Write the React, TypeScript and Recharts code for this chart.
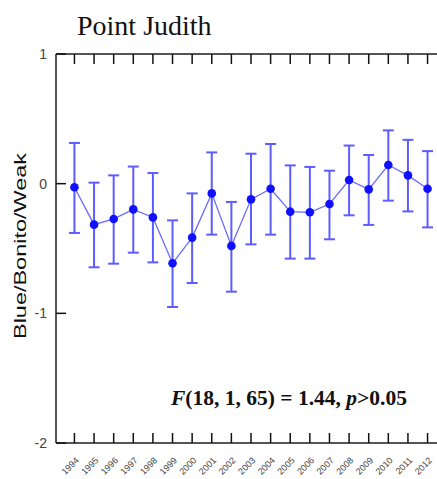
import { ComposedChart, Line, XAxis, YAxis, ErrorBar } from 'recharts';

const years = [1994, 1995, 1996, 1997, 1998, 1999, 2000, 2001, 2002, 2003, 2004, 2005, 2006, 2007, 2008, 2009, 2010, 2011, 2012];
const means = [-0.028, -0.316, -0.272, -0.198, -0.26, -0.614, -0.416, -0.075, -0.48, -0.121, -0.039, -0.216, -0.221, -0.157, 0.028, -0.044, 0.144, 0.064, -0.039];
const upper = [0.314, 0.008, 0.064, 0.132, 0.082, -0.283, -0.075, 0.241, -0.141, 0.231, 0.306, 0.141, 0.129, 0.1, 0.294, 0.221, 0.411, 0.338, 0.251];
const lower = [-0.38, -0.645, -0.617, -0.532, -0.607, -0.951, -0.766, -0.393, -0.833, -0.468, -0.393, -0.578, -0.578, -0.429, -0.244, -0.318, -0.131, -0.214, -0.337];
const yTicks = [-2, -1, 0, 1];

const data = years.map((year, i) => ({
  year,
  value: means[i],
  err: [means[i] - lower[i], upper[i] - means[i]],
}));

const BottomTick = (props: any) => {
  const { x, y, payload } = props;
  return (
    <g>
      <line x1={x} y1={y} x2={x} y2={y - 10} stroke="#111" strokeWidth={1.5} />
      <text
        x={x + 5}
        y={y + 18}
        transform={`rotate(-45 ${x + 5} ${y + 18})`}
        textAnchor="end"
        fontSize={9}
        fontFamily="Arial, Liberation Sans"
        fill="#444"
      >
        {payload.value}
      </text>
    </g>
  );
};

const TopTick = (props: any) => {
  const { x, y } = props;
  return <line x1={x} y1={y} x2={x} y2={y + 10} stroke="#111" strokeWidth={1.5} />;
};

const LeftTick = (props: any) => {
  const { x, y, payload } = props;
  return (
    <g>
      <line x1={x} y1={y} x2={x + 10} y2={y} stroke="#111" strokeWidth={1.5} />
      <text x={x - 9} y={y + 5} textAnchor="end" fontSize={14} fontFamily="Arial, Liberation Sans" fill="#444">
        {payload.value}
      </text>
    </g>
  );
};

const RightTick = (props: any) => {
  const { x, y } = props;
  return <line x1={x} y1={y} x2={x - 10} y2={y} stroke="#111" strokeWidth={1.5} />;
};

export default function App() {
  return (
    <div style={{ position: 'absolute', left: 0, top: 0, width: 437, height: 479, overflow: 'hidden', background: '#fff' }}>
      <ComposedChart width={450} height={479} data={data} margin={{ top: 0, right: 3, bottom: 0, left: 0 }}>
        <XAxis
          xAxisId="bottom"
          type="number"
          dataKey="year"
          domain={[1993.06, 2012.94]}
          ticks={years}
          allowDataOverflow
          height={36}
          tickSize={0}
          tickMargin={0}
          tickLine={false}
          interval={0}
          axisLine={{ stroke: '#555', strokeWidth: 2 }}
          tick={<BottomTick />}
        />
        <XAxis
          xAxisId="top"
          orientation="top"
          type="number"
          dataKey="year"
          domain={[1993.06, 2012.94]}
          ticks={years}
          allowDataOverflow
          height={54}
          tickSize={0}
          tickMargin={0}
          tickLine={false}
          interval={0}
          axisLine={{ stroke: '#555', strokeWidth: 2 }}
          tick={<TopTick />}
        />
        <YAxis
          yAxisId="left"
          type="number"
          domain={[-2, 1]}
          ticks={yTicks}
          width={56}
          tickSize={0}
          tickMargin={0}
          tickLine={false}
          interval={0}
          axisLine={{ stroke: '#555', strokeWidth: 2 }}
          tick={<LeftTick />}
        />
        <YAxis
          yAxisId="right"
          orientation="right"
          type="number"
          domain={[-2, 1]}
          ticks={yTicks}
          width={1}
          tickSize={0}
          tickMargin={0}
          tickLine={false}
          interval={0}
          axisLine={{ stroke: '#555', strokeWidth: 2 }}
          tick={<RightTick />}
        />
        <Line
          xAxisId="bottom"
          yAxisId="left"
          dataKey="value"
          stroke="#6a6aff"
          strokeWidth={1.3}
          dot={{ r: 4.3, fill: '#1010ff', stroke: 'none' }}
          activeDot={false}
          isAnimationActive={false}
        >
          <ErrorBar dataKey="err" direction="y" width={5.5} stroke="#5c5cff" strokeWidth={2} isAnimationActive={false} />
        </Line>
      </ComposedChart>
      <svg width={437} height={479} style={{ position: 'absolute', left: 0, top: 0, pointerEvents: 'none' }}>
        <text x={77} y={35} fontSize={28} fontFamily="Liberation Serif, Times New Roman, serif" fill="#111">
          Point Judith
        </text>
        <text
          x={26}
          y={246}
          transform="rotate(-90 26 246)"
          textAnchor="middle"
          fontSize={17}
          textLength={186}
          lengthAdjust="spacingAndGlyphs"
          fontFamily="Arial, Liberation Sans, sans-serif"
          fill="#111"
        >
          Blue/Bonito/Weak
        </text>
        <text x={171} y={405} fontSize={21.5} fontWeight="bold" fontFamily="Liberation Serif, Times New Roman, serif" fill="#111">
          <tspan fontStyle="italic">F</tspan>(18, 1, 65) = 1.44, <tspan fontStyle="italic">p</tspan>&gt;0.05
        </text>
      </svg>
    </div>
  );
}
